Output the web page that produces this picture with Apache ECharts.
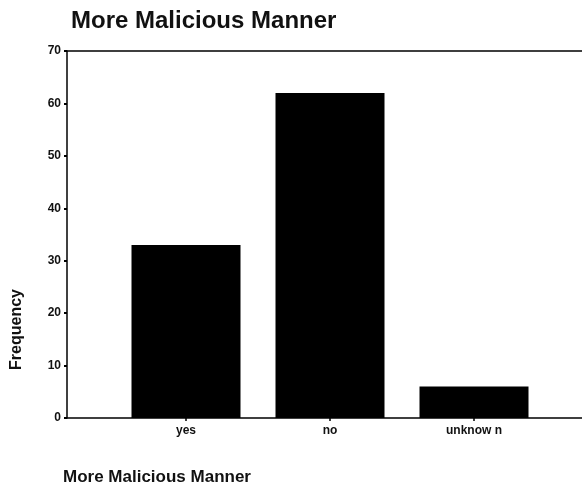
<!DOCTYPE html>
<html>
<head>
<meta charset="utf-8">
<script src="https://cdn.jsdelivr.net/npm/echarts@6/dist/echarts.min.js"></script>
<style>
  html, body { margin: 0; padding: 0; background: #fff; }
  #chart { width: 582px; height: 489px; }
</style>
</head>
<body>
<div id="chart"></div>
<script>
// chart data
const categories = ['yes', 'no', 'unknow n']
const frequency = [33, 62, 6]
const yTicks = { min: 0, max: 70, interval: 10 }

const font = '"Liberation Sans", Arial, sans-serif'

const chart = echarts.init(document.getElementById('chart'))

const options = {
  backgroundColor: '#ffffff',
  animation: false,
  title: {
    text: 'More Malicious Manner',
    left: 66,
    top: 4,
    textStyle: { fontFamily: font, fontSize: 24, fontWeight: 'bold', color: '#111' }
  },
  graphic: [
    {
      type: 'text',
      left: 63,
      top: 469,
      style: { text: 'More Malicious Manner', font: 'bold 17px ' + font, fill: '#111' }
    }
  ],
  grid: [
    // frame: axis lines + y ticks
    { left: 67, right: -10, top: 51, bottom: 71 },
    // bars
    { left: 114, width: 432, top: 51, bottom: 71 }
  ],
  xAxis: [
    {
      type: 'value', gridIndex: 0, position: 'bottom',
      axisLine: { show: true, lineStyle: { color: '#000', width: 1.5 } },
      axisTick: { show: false }, axisLabel: { show: false }, splitLine: { show: false }
    },
    {
      type: 'value', gridIndex: 0, position: 'top',
      axisLine: { show: true, lineStyle: { color: '#000', width: 1.5 } },
      axisTick: { show: false }, axisLabel: { show: false }, splitLine: { show: false }
    },
    {
      type: 'category', gridIndex: 1, data: categories,
      axisLine: { show: false },
      axisTick: { show: true, alignWithLabel: true, length: 3, lineStyle: { color: '#000', width: 1.5 } },
      axisLabel: { color: '#111', fontFamily: font, fontSize: 12, fontWeight: 'bold', margin: 7 }
    }
  ],
  yAxis: [
    {
      type: 'value', gridIndex: 0,
      min: yTicks.min, max: yTicks.max, interval: yTicks.interval,
      name: 'Frequency',
      nameLocation: 'middle',
      nameGap: 42,
      nameRotate: 90,
      nameTextStyle: { fontFamily: font, fontSize: 16, fontWeight: 'bold', color: '#111', padding: [0, 0, 0, -190] },
      axisLine: { show: true, lineStyle: { color: '#000', width: 1.5 } },
      axisTick: { show: true, length: 3, lineStyle: { color: '#000', width: 2 } },
      axisLabel: { color: '#111', fontFamily: font, fontSize: 12, fontWeight: 'bold', margin: 6 },
      splitLine: { show: false }
    },
    {
      type: 'value', gridIndex: 1,
      min: yTicks.min, max: yTicks.max, interval: yTicks.interval,
      show: false
    }
  ],
  series: [
    {
      type: 'bar',
      xAxisIndex: 2,
      yAxisIndex: 1,
      barWidth: 109,
      itemStyle: { color: '#000' },
      data: frequency
    }
  ]
}

chart.setOption(options)
</script>
</body>
</html>
